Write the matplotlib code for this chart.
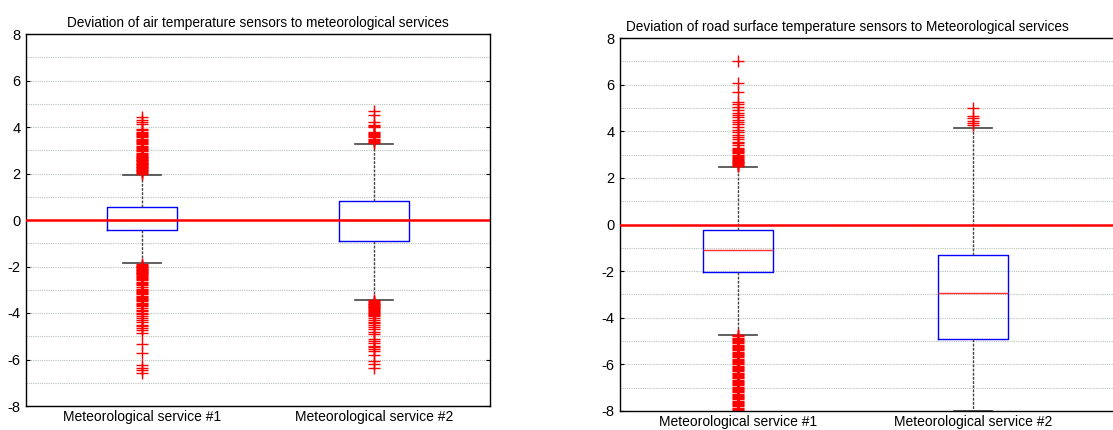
import matplotlib
matplotlib.use('Agg')
import matplotlib.pyplot as plt
from matplotlib.ticker import MultipleLocator

plt.rcParams['font.family'] = ['Liberation Sans', 'DejaVu Sans']
plt.rcParams['axes.unicode_minus'] = False

labels = ['Meteorological service #1', 'Meteorological service #2']

# air temperature: box stats
air_q1 = [-0.45, -0.9]
air_med = [0.0, 0.0]
air_q3 = [0.55, 0.8]
air_lo = [-1.85, -3.42]
air_hi = [1.95, 3.28]
air_fliers_1 = [2.0, 2.03, 2.06, 2.1, 2.13, 2.16, 2.2, 2.23, 2.26, 2.3, 2.33, 2.36, 2.4, 2.43,
                2.46, 2.5, 2.53, 2.56, 2.6, 2.63, 2.66, 2.7, 2.73, 2.76, 2.8, 2.85, 2.9, 2.95,
                3.0, 3.05, 3.1, 3.15, 3.2, 3.25, 3.3, 3.35, 3.4, 3.45, 3.5, 3.55, 3.6, 3.65,
                3.7, 3.75, 3.8, 3.85, 3.9, 4.15, 4.2, 4.3, 4.45,
                -1.9, -1.93, -1.96, -2.0, -2.03, -2.06, -2.1, -2.13, -2.16, -2.2, -2.23, -2.26,
                -2.3, -2.33, -2.36, -2.4, -2.45, -2.5, -2.55, -2.6, -2.65, -2.7, -2.75, -2.8,
                -2.9, -2.95, -3.0, -3.05, -3.1, -3.15, -3.2, -3.25, -3.3, -3.35, -3.4, -3.45,
                -3.5, -3.55, -3.6, -3.65, -3.7, -3.8, -3.85, -3.9, -4.0, -4.05, -4.15, -4.2,
                -4.3, -4.4, -4.5, -4.55, -4.65, -4.75, -4.85, -5.35, -5.7, -6.25, -6.35,
                -6.45, -6.6]
air_fliers_2 = [3.3, 3.35, 3.4, 3.45, 3.5, 3.55, 3.6, 3.65, 3.7, 3.75, 3.8, 4.0, 4.05, 4.1,
                4.2, 4.5, 4.7,
                -3.45, -3.5, -3.53, -3.56, -3.6, -3.63, -3.66, -3.7, -3.73, -3.76, -3.8, -3.83,
                -3.86, -3.9, -3.95, -4.0, -4.05, -4.1, -4.15, -4.2, -4.3, -4.4, -4.45, -4.5,
                -4.6, -4.7, -4.8, -4.9, -5.1, -5.2, -5.3, -5.4, -5.45, -5.55, -5.65, -5.8,
                -6.05, -6.2, -6.35]

# road surface temperature
road_q1 = [-2.02, -4.9]
road_med = [-1.08, -2.92]
road_q3 = [-0.25, -1.3]
road_lo = [-4.72, -8.0]
road_hi = [2.48, 4.12]
road_fliers_1 = [2.5, 2.53, 2.56, 2.6, 2.63, 2.66, 2.7, 2.73, 2.76, 2.8, 2.85, 2.9, 2.95, 3.0,
                 3.05, 3.1, 3.15, 3.2, 3.25, 3.3, 3.4, 3.5, 3.55, 3.65, 3.75, 3.85, 3.95, 4.05,
                 4.2, 4.3, 4.4, 4.5, 4.6, 4.7, 4.8, 4.9, 5.05, 5.15, 5.25, 5.7, 6.05, 7.0,
                 -4.72, -4.76, -4.8, -4.85, -4.9, -4.95, -5.0, -5.05, -5.1, -5.15, -5.2, -5.25,
                 -5.3, -5.35, -5.4, -5.45, -5.5, -5.55, -5.6, -5.65, -5.7, -5.75, -5.8, -5.85,
                 -5.9, -5.95, -6.0, -6.05, -6.1, -6.15, -6.2, -6.25, -6.3, -6.35, -6.4, -6.45,
                 -6.5, -6.55, -6.6, -6.65, -6.7, -6.75, -6.8, -6.85, -6.9, -6.95, -7.0, -7.05,
                 -7.1, -7.15, -7.2, -7.25, -7.3, -7.35, -7.4, -7.45, -7.5, -7.55, -7.6, -7.65,
                 -7.7, -7.75, -7.8, -7.85, -7.9, -7.95, -8.0, -8.1]
road_fliers_2 = [4.25, 4.35, 4.45, 4.55, 4.65, 5.0]


def make_stats(q1, med, q3, lo, hi, fliers):
    out = []
    for i in range(len(q1)):
        out.append(dict(q1=q1[i], med=med[i], q3=q3[i], whislo=lo[i], whishi=hi[i],
                        fliers=fliers[i], label=labels[i]))
    return out


def draw(ax, stats, title, title_x=0.5):
    ax.bxp(stats, positions=[1, 2], widths=0.3, showfliers=True,
           boxprops=dict(color='blue', linewidth=1.0),
           medianprops=dict(color='#ff3030', linewidth=1.0),
           whiskerprops=dict(color='#444444', linestyle=(0, (2, 1)), linewidth=1.0),
           capprops=dict(color='#444444', linewidth=1.2),
           flierprops=dict(marker='+', markeredgecolor='red', markersize=8,
                           markeredgewidth=1.0, linestyle='none'),
           capwidths=0.16)
    ax.axhline(0, color='red', linewidth=1.8, zorder=3)
    ax.set_ylim(-8, 8)
    ax.yaxis.set_major_locator(MultipleLocator(2))
    ax.yaxis.set_minor_locator(MultipleLocator(1))
    ax.grid(True, which='both', axis='y', color='#b8c4b8', linestyle=(0, (1, 1)), linewidth=0.8)
    ax.set_axisbelow(True)
    ax.tick_params(axis='y', which='major', direction='in', length=3, labelsize=10.5,
                   right=True, pad=4)
    ax.tick_params(axis='y', which='minor', length=0)
    ax.tick_params(axis='x', direction='in', length=0, labelsize=10, pad=3)
    ax.set_title(title, fontsize=9.8, x=title_x, pad=5)
    for s in ax.spines.values():
        s.set_linewidth(1.0)


fig = plt.figure(figsize=(11.13, 4.30), dpi=100)
W, H = 1113.0, 430.0
ax1 = fig.add_axes([26 / W, 24 / H, 464 / W, 372 / H])
ax2 = fig.add_axes([620 / W, 19 / H, 505 / W, 373 / H])

draw(ax1, make_stats(air_q1, air_med, air_q3, air_lo, air_hi, [air_fliers_1, air_fliers_2]),
     'Deviation of air temperature sensors to meteorological services')
ax1.set_xlim(0.5, 2.5)

draw(ax2, make_stats(road_q1, road_med, road_q3, road_lo, road_hi, [road_fliers_1, road_fliers_2]),
     'Deviation of road surface temperature sensors to Meteorological services', title_x=0.45)
ax2.set_xlim(0.498, 2.647)

fig.savefig('out.png', dpi=100)
